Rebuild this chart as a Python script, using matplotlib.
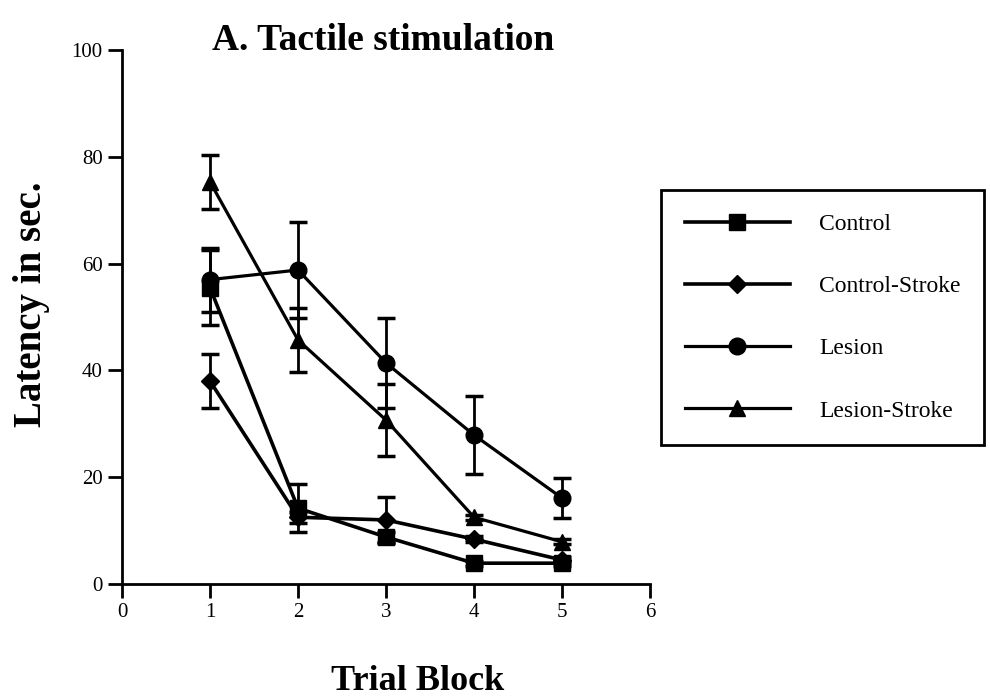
import matplotlib
matplotlib.use('Agg')
import matplotlib.pyplot as plt

plt.rcParams['font.family'] = ['Liberation Serif', 'DejaVu Serif']

trial_block = [1, 2, 3, 4, 5]
control = [55.5, 14.2, 8.8, 3.9, 3.9]
control_err = [7.0, 4.5, 1.0, 0.5, 0.5]
control_stroke = [38.0, 12.5, 12.0, 8.4, 4.5]
control_stroke_err = [5.0, 1.0, 4.3, 0.5, 0.5]
lesion = [57.0, 58.8, 41.4, 27.9, 16.1]
lesion_err = [6.0, 9.0, 8.4, 7.3, 3.8]
lesion_stroke = [75.3, 45.7, 30.7, 12.5, 7.9]
lesion_stroke_err = [5.0, 6.0, 6.8, 0.5, 0.5]

series = [
    ('Control', control, control_err, 's', 11.5, 2.6),
    ('Control-Stroke', control_stroke, control_stroke_err, 'D', 9, 2.6),
    ('Lesion', lesion, lesion_err, 'o', 12, 2.3),
    ('Lesion-Stroke', lesion_stroke, lesion_stroke_err, '^', 12, 2.3),
]

fig = plt.figure(figsize=(9.9, 6.99), dpi=100)
ax = fig.add_axes([122/990, 1-584/699, (650-122)/990, (584-50)/699])

handles = []
for name, vals, errs, mk, ms, lw in series:
    ax.errorbar(trial_block, vals, yerr=errs, fmt='none', ecolor='black',
                elinewidth=2, capsize=6.5, capthick=2.5, zorder=2)
    h, = ax.plot(trial_block, vals, color='black', lw=lw, marker=mk,
                 markersize=ms, markerfacecolor='black',
                 markeredgecolor='black', label=name, zorder=3)
    handles.append(h)

ax.set_xlim(0, 6)
ax.set_ylim(0, 100)
ax.set_xticks(range(0, 7))
ax.set_yticks(range(0, 101, 20))
for s in ['top', 'right']:
    ax.spines[s].set_visible(False)
for s in ['left', 'bottom']:
    ax.spines[s].set_linewidth(2)
ax.tick_params(direction='out', length=10, width=2, labelsize=15, pad=4)

fig.text(383/990, 1-40/699, 'A. Tactile stimulation', ha='center',
         va='center', fontsize=27, fontweight='bold')
fig.text(32/990, 1-304/699, 'Latency in sec.', ha='center', va='center',
         rotation=90, fontsize=28, fontweight='bold')
fig.text(418/990, 1-682/699, 'Trial Block', ha='center', va='center',
         fontsize=26, fontweight='bold')

leg = fig.legend(handles=handles, loc='upper left',
                 bbox_to_anchor=(661/990, 1-190/699), fontsize=17,
                 handlelength=4.45, handletextpad=1.25, labelspacing=1.72,
                 borderpad=1.0, borderaxespad=0, frameon=True, fancybox=False,
                 framealpha=1)
leg.get_frame().set_edgecolor('black')
leg.get_frame().set_linewidth(2)

fig.savefig('out.png', dpi=100)
